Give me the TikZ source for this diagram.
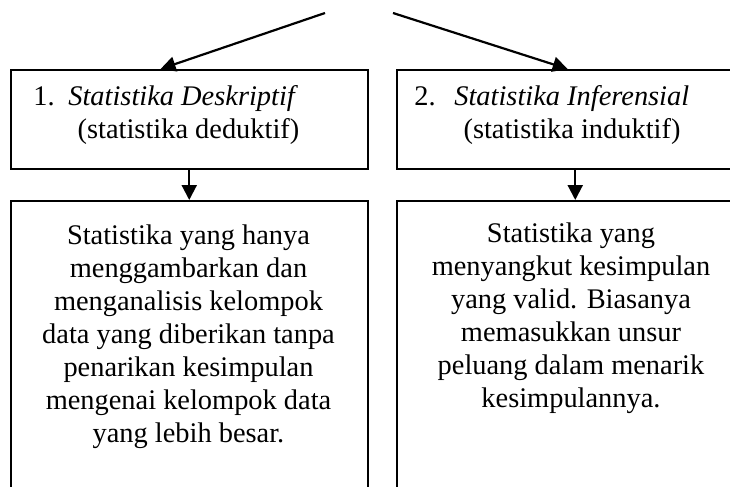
\documentclass[tikz,border=0pt]{standalone}
\usepackage{fontspec}
\setmainfont{Liberation Serif}
\usetikzlibrary{arrows.meta,calc}
\begin{document}
\begin{tikzpicture}[x=0.5pt,y=-0.5pt,
  box/.style={draw,line width=0.75pt,rectangle,inner sep=0pt,anchor=north west,minimum width=178.5pt},
  txt/.style={inner sep=0pt,font=\fontsize{14.2}{16.5}\selectfont},
  arr/.style={line width=1.1pt,-{Triangle[length=7.5pt,width=7.5pt]}}]
\useasboundingbox (0,0) rectangle (730,487);
\clip (0,0) rectangle (730,487);
% boxes
\node[box,minimum height=49.5pt] (b1) at (10,69) {};
\node[box,minimum height=49.5pt] (b2) at (396,69) {};
\node[box,minimum height=160pt] (b3) at (10,200) {};
\node[box,minimum height=160pt] (b4) at (396,200) {};
% top texts
\node[txt,anchor=base west] (n1) at (33,105) {1.};
\node[txt,anchor=base west] (t1) at (68,105) {\textit{Statistika Deskriptif}};
\node[txt,anchor=base] (u1) at (188.5,138) {(statistika deduktif)};
\node[txt,anchor=base west] (n2) at (414,105) {2.};
\node[txt,anchor=base west] (t2) at (454,105) {\textit{Statistika Inferensial}};
\node[txt,anchor=base] (u2) at (572,138) {(statistika induktif)};
% bottom texts
\node[txt,align=center,anchor=north] (d1) at (188.5,224) {Statistika yang hanya\\menggambarkan dan\\menganalisis kelompok\\data yang diberikan tanpa\\penarikan kesimpulan\\mengenai kelompok data\\yang lebih besar.};
\node[txt,align=center,anchor=north] (d2) at (571,222) {Statistika yang\\menyangkut kesimpulan\\yang valid. Biasanya\\memasukkan unsur\\peluang dalam menarik\\kesimpulannya.};
% arrows
\coordinate (s1) at (325,13);
\coordinate (s2) at (393,13);
\draw[arr] (s1) -- ($(b1.north west)!0.42!(b1.north east)$);
\draw[arr] (s2) -- ($(b2.north west)!0.479!(b2.north east)$);
\draw[arr] (b1.south) -- (b3.north);
\draw[arr] (b2.south) -- (b4.north);
\end{tikzpicture}
\end{document}
